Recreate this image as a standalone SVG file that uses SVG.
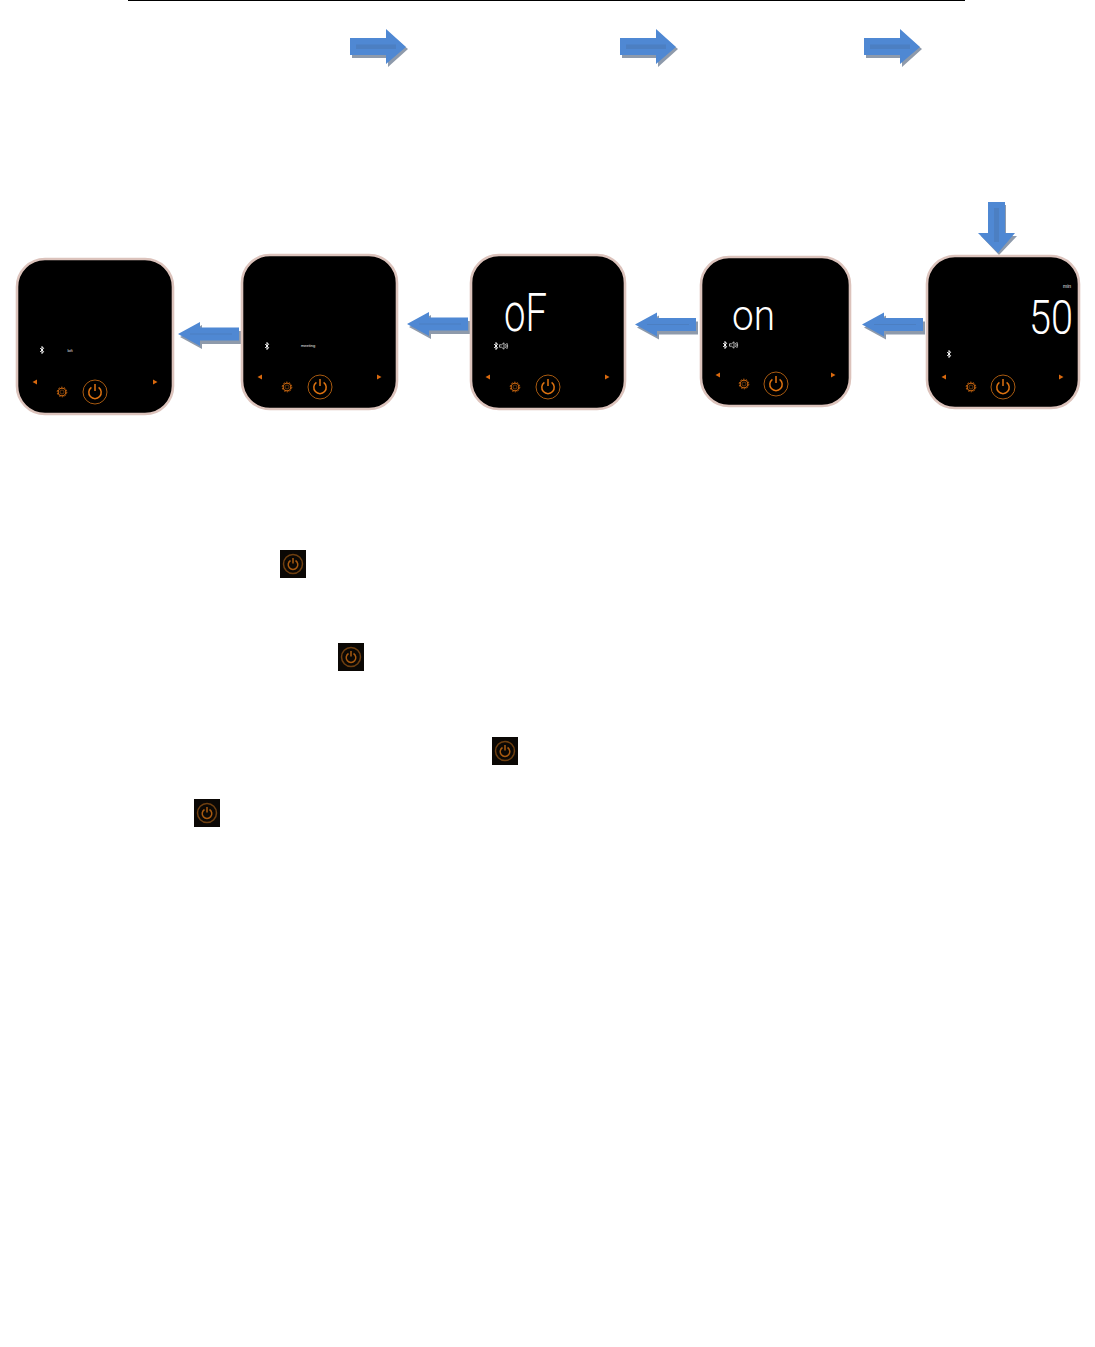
<svg xmlns="http://www.w3.org/2000/svg" width="1095" height="1347" viewBox="0 0 1095 1347">
<style>
.panel{fill:#000;stroke:#dcc3bc;stroke-width:2.6}
.seg{font-family:Roboto,"Liberation Sans",sans-serif;font-weight:300;fill:#fff}
.tiny{font-family:"Liberation Sans",Arial,sans-serif;font-size:4px;fill:#e8e8e8;text-anchor:middle}
.a{fill:#4f88d3}
.s{fill:#8e9aab}
.l{fill:#4c7fc2}
.tri{fill:#d9690e}
.ring{fill:none;stroke:#a85a10;stroke-width:1}
.pw{fill:none;stroke:#dd7210;stroke-width:1.5}
.bt{fill:none;stroke:#fff;stroke-width:1}
.sp{fill:none;stroke:#ddd;stroke-width:.8}
</style>
<defs>
<g id="power"><circle class="ring" r="12"/><path class="pw" d="M-3.600-4.600A6.200 6.200 0 1 0 3.600-4.600M0-8V-1"/></g>
<g id="gear"><circle r="3.800" fill="none" stroke="#c9660f" stroke-width="1.100"/><circle r="2" fill="none" stroke="#7a4210" stroke-width=".8"/><circle r="4.800" fill="none" stroke="#c9660f" stroke-width="1" stroke-dasharray="1.600 1.400"/></g>
<path id="bt" class="bt" d="M-1.800-2 1.600 1.600 0 3.500V-3.500L1.600-1.600-1.800 2"/>
<path id="tl" class="tri" d="M-2.500 0 2-2.600V2.600Z"/>
<path id="tr" class="tri" d="M2.500 0-2-2.600V2.600Z"/>
<path id="speaker" class="sp" d="M-3.500-1.200H-1.500L1-3.200V3.200L-1.500 1.200H-3.500ZM2.500-2Q4 0 2.500 2M3.800-3Q5.600 0 3.800 3"/>
<g id="arrowR"><path class="s" d="M2 11H38V3L58 19 38 37V28H2Z"/><path class="a" d="M0 8H36V-1L56 17 36 34V25H0Z"/><rect class="l" x="6" y="14.500" width="40" height="4.500"/></g>
<g id="arrowL"><path class="s" d="M2 3 24-9V-3H63V10H24V15Z"/><path class="a" d="M0 0 22-12V-6.500H61V6.500H22V12Z"/><rect class="l" x="12" y="-.5" width="42" height="1"/></g>
<g id="powerBox"><rect width="26" height="28" fill="#0b0805"/><circle cx="13" cy="14" r="9.500" fill="none" stroke="#6e3f10" stroke-width="1.500"/><path fill="none" stroke="#a85a10" stroke-width="1.500" d="M10.500 10.500A4.800 4.800 0 1 0 15.500 10.500M13 8V13.500"/></g>
</defs>

<rect width="1095" height="1347" fill="#fff"/>
<rect x="128" y="0" width="837" height="1" fill="#000"/>

<g id="connectors">
<use href="#arrowR" x="350" y="30"/>
<use href="#arrowR" x="620" y="30"/>
<use href="#arrowR" x="864" y="30"/>
<use href="#arrowL" x="178" y="334"/>
<use href="#arrowL" x="407" y="324"/>
<use href="#arrowL" x="635" y="324.500"/>
<use href="#arrowL" x="862" y="324.500"/>
<g id="arrowDown"><path class="s" d="M990 205H1006V236H1017L999 255 981 236H990Z"/><path class="a" d="M988 202H1005V233H1015L998 253 978 233H988Z"/><rect class="l" x="994" y="208" width="5" height="34"/></g>
</g>

<g id="panel-1"><rect class="panel" x="17" y="259" width="156" height="155" rx="28"/><use href="#bt" x="42" y="350"/><text class="tiny" x="70" y="352">lofi</text><use href="#tl" x="35" y="382"/><use href="#tr" x="155" y="382"/><use href="#gear" x="62" y="392"/><use href="#power" x="95" y="392"/></g>
<g id="panel-2"><rect class="panel" x="242" y="255" width="155" height="154" rx="28"/><use href="#bt" x="267" y="346"/><text class="tiny" x="308" y="347">meeting</text><use href="#tl" x="260" y="377"/><use href="#tr" x="379" y="377"/><use href="#gear" x="287" y="387"/><use href="#power" x="320" y="387"/></g>
<g id="panel-3"><rect class="panel" x="471" y="255" width="154" height="154" rx="28"/><text class="seg" x="504" y="331" font-size="54" textLength="43" lengthAdjust="spacingAndGlyphs">oF</text><use href="#bt" x="496" y="346"/><use href="#speaker" x="503" y="346"/><use href="#tl" x="488" y="377"/><use href="#tr" x="607" y="377"/><use href="#gear" x="515" y="387"/><use href="#power" x="548" y="387"/></g>
<g id="panel-4"><rect class="panel" x="701" y="257" width="149" height="149" rx="28"/><text class="seg" x="732" y="330" font-size="42" textLength="43" lengthAdjust="spacingAndGlyphs">on</text><use href="#bt" x="725" y="345"/><use href="#speaker" x="733" y="345"/><use href="#tl" x="718" y="375"/><use href="#tr" x="833" y="375"/><use href="#gear" x="744" y="384"/><use href="#power" x="776" y="384"/></g>
<g id="panel-5"><rect class="panel" x="927" y="256" width="152" height="152" rx="28"/><text class="tiny" x="1067" y="287.500" style="font-size:5px">min</text><text class="seg" x="1029" y="334" font-size="48" textLength="44" lengthAdjust="spacingAndGlyphs">50</text><use href="#bt" x="949" y="354"/><use href="#tl" x="944" y="377"/><use href="#tr" x="1061" y="377"/><use href="#gear" x="971" y="387"/><use href="#power" x="1003" y="387"/></g>

<g id="inline-icons">
<use href="#powerBox" x="280" y="550"/>
<use href="#powerBox" x="338" y="643"/>
<use href="#powerBox" x="492" y="737"/>
<use href="#powerBox" x="194" y="799"/>
</g>
</svg>
